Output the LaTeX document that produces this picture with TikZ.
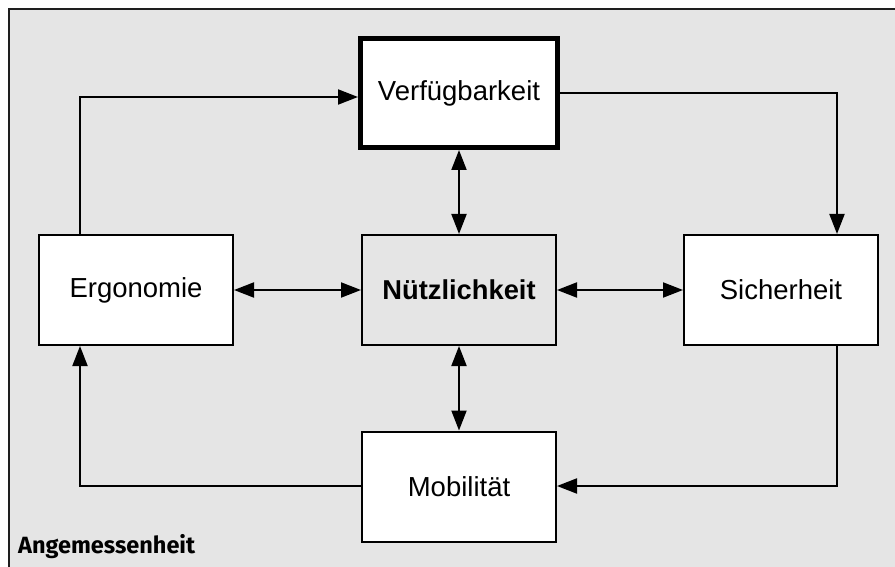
\documentclass[tikz,border=0pt]{standalone}
\usepackage{fontspec}
\setmainfont{Liberation Sans}
\newfontfamily\labelfont{Fira Sans}
\usetikzlibrary{arrows.meta}
\definecolor{panel}{RGB}{229,229,229}
\definecolor{frameline}{RGB}{30,30,30}
\tikzset{
  tip/.tip={Triangle[length=20pt,width=15pt]},
  box/.style={draw=black, line width=2pt, fill=white, minimum width=194pt,
    minimum height=110pt, inner sep=0pt, font=\fontsize{27.5}{30}\selectfont},
  corebox/.style={box, fill=panel, font=\fontsize{27.3}{30}\selectfont\bfseries},
  keybox/.style={box, line width=5pt, minimum width=197pt, minimum height=109pt},
  conn/.style={draw=black, line width=2pt, -tip},
  both/.style={conn, tip-tip},
}
\begin{document}
\begin{tikzpicture}[x=1pt,y=-1pt]
  \useasboundingbox (0,0) rectangle (895,567);
  % grey panel with its frame running off the right and bottom edges
  \fill[panel] (9,9) rectangle (900,572);
  \draw[frameline, line width=2.2pt] (9,572) -- (9,9) -- (900,9);

  % boxes
  \node[keybox]  (verf) at (459,93)    {Verfügbarkeit};
  \node[box]     (erg)  at (136,290)   {Ergonomie};
  \node[corebox] (nutz) at (459,290)   {Nützlichkeit};
  \node[box]     (sich) at (781,290)   {Sicherheit};
  \node[box]     (mob)  at (459,486.5) {Mobilität};

  % frame title
  \node[anchor=base west, inner sep=0pt, font=\labelfont\bfseries\fontsize{23.5}{26}\selectfont]
    (title) at (18,553) {Angemessenheit};

  % outer cycle
  \coordinate (ul) at (80,97);
  \coordinate (ur) at (837,93);
  \coordinate (lr) at (837,486);
  \coordinate (ll) at (80,486);
  \draw[conn] (erg.north -| ul) -- (ul) -- (verf.west |- ul);
  \draw[conn] (verf.east |- ur) -- (ur) -- (sich.north -| ur);
  \draw[conn] (sich.south -| lr) -- (lr) -- (mob.east |- lr);
  \draw[conn] (mob.west |- ll) -- (ll) -- (erg.south -| ll);

  % links to the centre
  \draw[both] (verf.south) -- (nutz.north);
  \draw[both] (erg.east) -- (nutz.west);
  \draw[both] (nutz.east) -- (sich.west);
  \draw[both] (nutz.south) -- (mob.north);
\end{tikzpicture}
\end{document}
